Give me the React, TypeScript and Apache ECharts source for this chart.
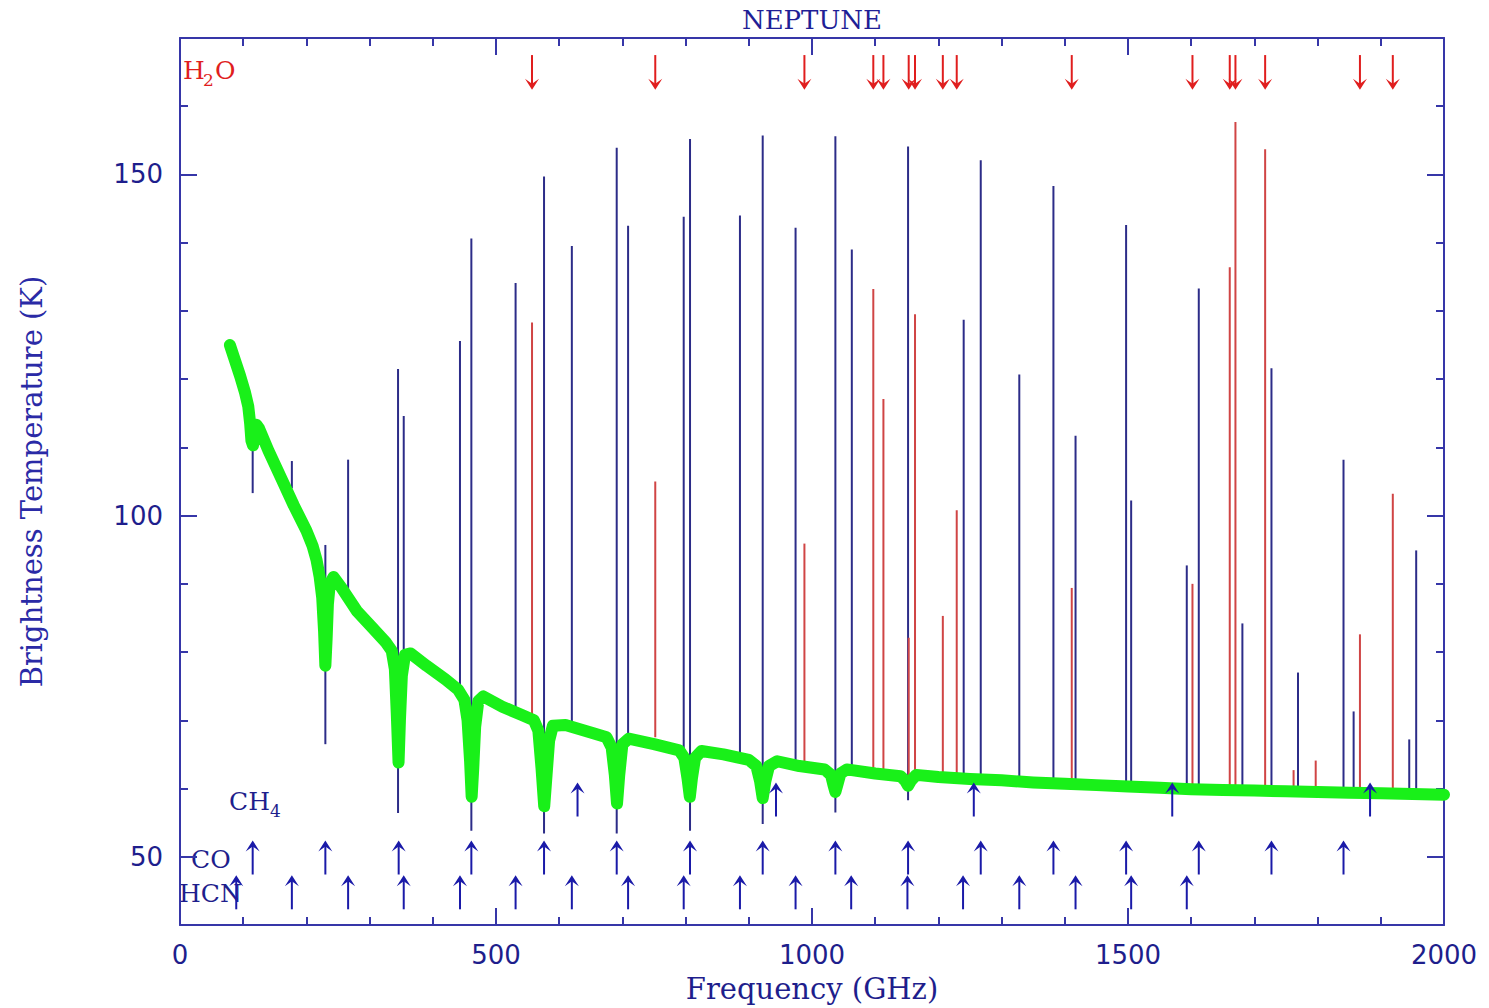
import React, { useEffect, useRef } from 'react';
import * as echarts from 'echarts';

// ---------- data ----------
// continuum (green) model spectrum: frequency (GHz) / brightness temperature (K)
const greenFreq = [79, 85, 95, 103, 108, 111, 113, 115.5, 118, 121, 125, 140, 160, 180, 200, 210, 216, 221, 225, 228, 230, 232, 234, 237, 243, 255, 280, 305, 325, 335, 340, 343, 345.8, 348, 351, 356, 365, 390, 420, 440, 450, 455, 459, 461.5, 464, 467, 472, 480, 510, 540, 560, 567, 572, 576.3, 580, 584, 590, 610, 650, 675, 683, 688, 691.5, 695, 700, 710, 750, 790, 798, 803, 806.7, 810, 815, 825, 860, 900, 912, 918, 922, 926, 932, 945, 980, 1020, 1030, 1034, 1037, 1040, 1045, 1055, 1100, 1140, 1147, 1152, 1157, 1165, 1200, 1250, 1300, 1350, 1400, 1450, 1500, 1550, 1600, 1650, 1700, 1750, 1800, 1850, 1900, 1950, 2000];
const greenTemp = [125, 123.3, 120.5, 118, 116, 113.5, 111, 110.3, 112, 113.3, 112.8, 109.5, 105.5, 101.5, 97.8, 95.5, 93.5, 91, 88, 83, 78, 82, 87, 90, 91, 89.5, 86, 83.5, 81.5, 80.2, 77.5, 71, 63.8, 70, 76.5, 79.6, 79.8, 78, 76, 74.5, 73, 70, 64, 58.8, 63, 69, 72.8, 73.5, 72, 70.8, 70, 68.5, 63, 57.4, 62, 67, 69.2, 69.3, 68.2, 67.5, 66, 62, 57.8, 62, 66.5, 67.3, 66.5, 65.6, 64.5, 61.5, 58.8, 61.5, 64.5, 65.5, 65, 64.2, 63.3, 61, 58.6, 61, 63.3, 64, 63.3, 62.8, 62, 60.5, 59.5, 60.5, 62.2, 62.8, 62.2, 61.8, 61.2, 60.4, 61.2, 62, 61.7, 61.4, 61.2, 60.9, 60.7, 60.5, 60.3, 60.1, 59.9, 59.8, 59.7, 59.6, 59.5, 59.4, 59.3, 59.2, 59.1];

// blue (CO / HCN) line peaks
const blueLineFreq = [115, 177, 230, 266, 345, 354, 443, 461, 531, 576, 620, 691, 709, 797, 807, 886, 922, 974, 1037, 1063, 1152, 1240, 1267, 1328, 1382, 1417, 1497, 1505, 1593, 1612, 1681, 1727, 1769, 1841, 1857, 1945, 1956];
const blueLineTop = [111.5, 108, 95.7, 108.2, 121.5, 114.6, 125.6, 140.6, 134.1, 149.7, 139.5, 153.9, 142.5, 143.8, 155.2, 144, 155.7, 142.2, 155.6, 139, 154.1, 128.7, 152.1, 120.7, 148.3, 111.7, 142.6, 102.2, 92.7, 133.3, 84.2, 121.6, 77, 108.2, 71.3, 67.2, 94.9];
const blueLineBottom = [103.3, 104, 66.5, 89, 56.4, 79.5, 73.5, 53.8, 71.7, 53.4, 69, 53.4, 67.3, 65.7, 53.8, 64.4, 54.8, 63.5, 56.5, 62.7, 58.3, 61.5, 61.3, 61, 60.6, 60.5, 60.2, 60.2, 60, 59.9, 59.7, 59.6, 59.5, 59.4, 59.4, 59.1, 59.1];

// red (H2O) line peaks
const redLineFreq = [557, 752, 988, 1097, 1113, 1153, 1163, 1207, 1229, 1411, 1602, 1661, 1670, 1717, 1762, 1797, 1867, 1919];
const redLineTop = [128.3, 105, 95.9, 133.2, 117.1, 82.1, 129.5, 85.3, 100.8, 89.4, 90, 136.4, 157.7, 153.7, 62.7, 64.1, 82.6, 103.2];
const redLineBottom = [70.5, 67.5, 63.8, 62.5, 62.3, 61.5, 62, 61.7, 61.6, 60.5, 59.9, 59.8, 59.7, 59.7, 59.5, 59.5, 59.3, 59.2];

// transition markers
const h2oArrowFreq = [557, 752, 988, 1097, 1113, 1153, 1163, 1207, 1229, 1411, 1602, 1661, 1670, 1717, 1867, 1919];
const ch4ArrowFreq = [629, 943, 1256, 1570, 1883];
const coArrowFreq = [115, 230, 346, 461, 576, 691, 807, 922, 1037, 1152, 1267, 1382, 1497, 1612, 1727, 1841];
const hcnArrowFreq = [89, 177, 266, 354, 443, 531, 620, 709, 797, 886, 974, 1062, 1151, 1239, 1328, 1417, 1505, 1593];

// axis ticks
const xMin = 0, xMax = 2000, xMajor = 500;
const yMin = 40, yMax = 170, yMinorStep = 10;
const yMajorTicks = [50, 100, 150];

// ---------- styles ----------
const AXIS = '#3636a8';
const LABEL = '#1e1e8c';
const BLUE = '#2c2c88';
const RED = '#d04545';
const ARROW_BLUE = '#1a1aa8';
const ARROW_RED = '#e01e1e';
const GREEN = '#19f019';
const SERIF = 'DejaVu Serif';
const SANS = 'DejaVu Sans';

const stickRender = (color: string) => (params: any, api: any) => {
  const f = api.value(0);
  const top = api.coord([f, api.value(1)]);
  const bot = api.coord([f, api.value(2)]);
  return {
    type: 'line',
    shape: { x1: top[0], y1: top[1], x2: bot[0], y2: bot[1] },
    style: { stroke: color, lineWidth: 2 },
  };
};

const arrowRender = (color: string, tailK: number, tipK: number) => (params: any, api: any) => {
  const f = api.value(0);
  const tail = api.coord([f, tailK]);
  const tip = api.coord([f, tipK]);
  const s = tip[1] > tail[1] ? 1 : -1;
  const x = tip[0];
  const y = tip[1];
  return {
    type: 'group',
    children: [
      { type: 'line', shape: { x1: x, y1: tail[1], x2: x, y2: y - s * 3 }, style: { stroke: color, lineWidth: 2 } },
      {
        type: 'polygon',
        shape: { points: [[x, y], [x + 7, y - s * 11], [x, y - s * 6], [x - 7, y - s * 11]] },
        style: { fill: color },
      },
    ],
  };
};

const plainNumber = (v: number) => String(v);

const baseX = (position: 'bottom' | 'top', showLabel: boolean) => ({
  type: 'value',
  position,
  min: xMin,
  max: xMax,
  interval: xMajor,
  axisLine: { show: true, onZero: false, lineStyle: { color: AXIS, width: 2 } },
  axisTick: { show: true, inside: true, length: 17, lineStyle: { color: AXIS, width: 2 } },
  minorTick: { show: true, splitNumber: 5, length: 8, lineStyle: { color: AXIS, width: 2 } },
  splitLine: { show: false },
  minorSplitLine: { show: false },
  axisLabel: showLabel
    ? { show: true, color: LABEL, fontFamily: SANS, fontSize: 26, margin: 17, formatter: plainNumber }
    : { show: false },
});

const majorY = (position: 'left' | 'right', showLabel: boolean) => ({
  type: 'value',
  position,
  offset: 0,
  min: yMin,
  max: yMax,
  axisLine: { show: true, onZero: false, lineStyle: { color: AXIS, width: 2 } },
  axisTick: { show: true, inside: true, length: 17, customValues: yMajorTicks, lineStyle: { color: AXIS, width: 2 } },
  splitLine: { show: false },
  axisLabel: showLabel
    ? { show: true, customValues: yMajorTicks, color: LABEL, fontFamily: SANS, fontSize: 26, margin: 17, formatter: plainNumber }
    : { show: false },
});

const minorY = (position: 'left' | 'right') => ({
  type: 'value',
  position,
  offset: 0,
  min: yMin,
  max: yMax,
  interval: yMinorStep,
  axisLine: { show: false, onZero: false },
  axisTick: { show: true, inside: true, length: 8, lineStyle: { color: AXIS, width: 2 } },
  splitLine: { show: false },
  axisLabel: { show: false },
});

export default function App() {
  const ref = useRef<HTMLDivElement>(null);
  useEffect(() => {
    if (!ref.current) return;
    const chart = echarts.init(ref.current, null, { renderer: 'svg' });

    const green = greenFreq.map((f, i) => [f, greenTemp[i]]);
    const blue = blueLineFreq.map((f, i) => [f, blueLineTop[i], blueLineBottom[i]]);
    const red = redLineFreq.map((f, i) => [f, redLineTop[i], redLineBottom[i]]);

    const xBottom: any = {
      ...baseX('bottom', true),
      name: 'Frequency (GHz)',
      nameLocation: 'middle',
      nameGap: 49,
      nameTextStyle: { color: LABEL, fontFamily: SERIF, fontSize: 29 },
    };
    const yLeft: any = {
      ...majorY('left', true),
      name: 'Brightness Temperature (K)',
      nameLocation: 'middle',
      nameGap: 134,
      nameRotate: 90,
      nameTextStyle: { color: '#2a2aa6', fontFamily: SERIF, fontSize: 29 },
    };

    const mol = (text: string, x: number, y: number, color: string, size: number) => ({
      type: 'text',
      x,
      y,
      style: { text, verticalAlign: 'middle', fill: color, font: `${size}px "${SERIF}"` },
    });

    const option: any = {
      animation: false,
      backgroundColor: '#ffffff',
      grid: { left: 180, right: 45, top: 38, bottom: 81, show: false },
      xAxis: [xBottom, baseX('top', false)],
      yAxis: [yLeft, minorY('left'), majorY('right', false), minorY('right')],
      graphic: [
        { type: 'text', x: 812, y: 7, style: { text: 'NEPTUNE', align: 'center', fill: '#1f1f96', font: `26px "${SERIF}"` } },
        mol('H', 183, 70, ARROW_RED, 25),
        mol('2', 203, 80, ARROW_RED, 17),
        mol('O', 215, 70, ARROW_RED, 25),
        mol('CH', 229, 801, LABEL, 25),
        mol('4', 270, 811, LABEL, 17),
        mol('CO', 191, 859, LABEL, 25),
        mol('HCN', 179, 893, LABEL, 25),
      ],
      series: [
        {
          type: 'custom',
          name: 'CO/HCN lines',
          xAxisIndex: 0,
          yAxisIndex: 0,
          data: blue,
          encode: { x: 0, y: [1, 2] },
          renderItem: stickRender(BLUE),
          z: 2,
          silent: true,
        },
        {
          type: 'custom',
          name: 'H2O lines',
          xAxisIndex: 0,
          yAxisIndex: 0,
          data: red,
          encode: { x: 0, y: [1, 2] },
          renderItem: stickRender(RED),
          z: 2,
          silent: true,
        },
        {
          type: 'line',
          name: 'continuum',
          xAxisIndex: 0,
          yAxisIndex: 0,
          data: green,
          showSymbol: false,
          symbol: 'none',
          lineStyle: { color: GREEN, width: 12, cap: 'round', join: 'round' },
          z: 3,
          silent: true,
        },
        {
          type: 'custom',
          name: 'H2O',
          data: h2oArrowFreq.map((f) => [f]),
          encode: { x: 0 },
          renderItem: arrowRender(ARROW_RED, 167.5, 162.4),
          z: 4,
          silent: true,
        },
        {
          type: 'custom',
          name: 'CH4',
          data: ch4ArrowFreq.map((f) => [f]),
          encode: { x: 0 },
          renderItem: arrowRender(ARROW_BLUE, 55.9, 60.9),
          z: 4,
          silent: true,
        },
        {
          type: 'custom',
          name: 'CO',
          data: coArrowFreq.map((f) => [f]),
          encode: { x: 0 },
          renderItem: arrowRender(ARROW_BLUE, 47.4, 52.4),
          z: 4,
          silent: true,
        },
        {
          type: 'custom',
          name: 'HCN',
          data: hcnArrowFreq.map((f) => [f]),
          encode: { x: 0 },
          renderItem: arrowRender(ARROW_BLUE, 42.3, 47.3),
          z: 4,
          silent: true,
        },
      ],
    };
    chart.setOption(option);
    return () => chart.dispose();
  }, []);
  return (
    <div
      ref={ref}
      style={{ position: 'fixed', left: 0, top: 0, width: 1489, height: 1008, background: '#ffffff' }}
    />
  );
}
